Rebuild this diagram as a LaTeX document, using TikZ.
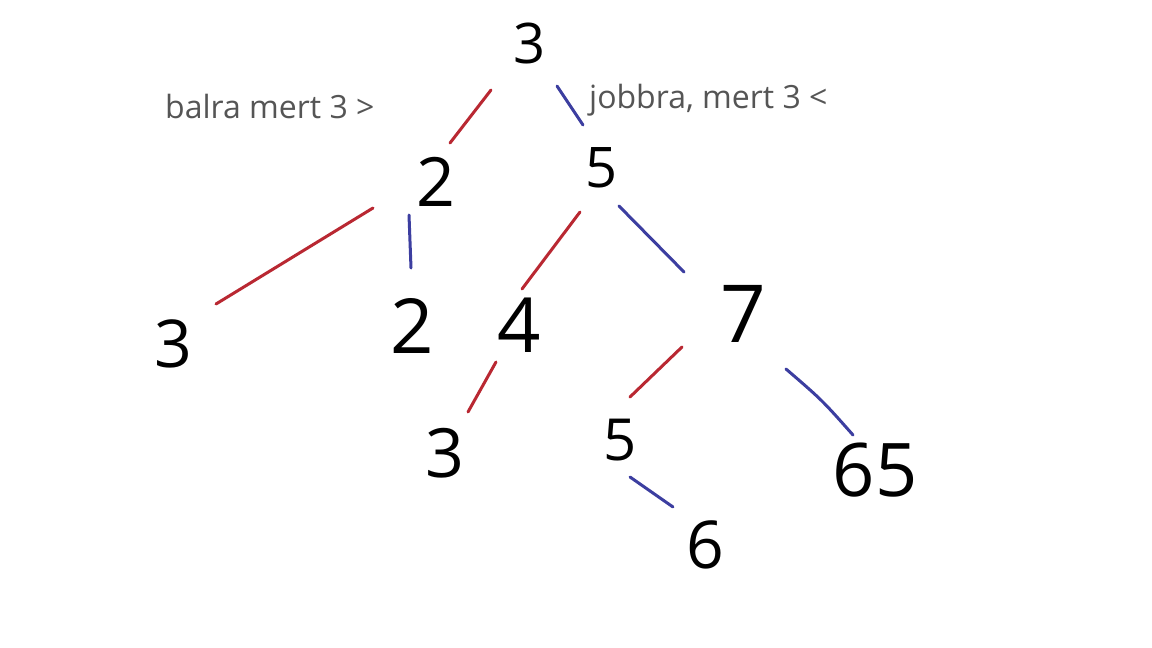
\documentclass[tikz,border=0pt]{standalone}
\usepackage{fontspec}
\setmainfont{Open Sans}
\definecolor{inkred}{RGB}{185,40,50}
\definecolor{inkblue}{RGB}{60,62,160}
\definecolor{labelgray}{RGB}{85,85,85}
\begin{document}
\begin{tikzpicture}[x=1pt,y=-1pt,
  digit/.style={inner sep=0pt,font=\fontsize{#1}{#1}\selectfont,text=black},
  digit/.default=64,
  note/.style={inner sep=0pt,anchor=base west,font=\fontsize{32}{32}\selectfont,text=labelgray},
  leftedge/.style={draw=inkred,line width=3pt,line cap=round},
  rightedge/.style={draw=inkblue,line width=3pt,line cap=round}]
\useasboundingbox (0,0) rectangle (1152,648);
\fill[white] (0,0) rectangle (1152,648);
% nodes
\node[digit=56] (root) at (530,43) {3};
\node[digit=68] (n2) at (436,182) {2};
\node[digit=56] (n5) at (602,168) {5};
\node[digit=66] (n3a) at (173,344) {3};
\node[digit=76] (n2b) at (412,326) {2};
\node[digit=76] (n4) at (519,325) {4};
\node[digit=80] (n7) at (743,314) {7};
\node[digit=68] (n3b) at (445,453) {3};
\node[digit=58] (n5b) at (620,440) {5};
\node[digit=74] (n65) at (875,470) {65};
\node[digit=66] (n6) at (705,545) {6};
% labels
\node[note] (lbl) at (165,118) {balra mert 3 >};
\node[note] (lbr) at (589,108) {jobbra, mert 3 <};
% stroke end points
\coordinate (e1a) at (491,90);  \coordinate (e1b) at (450,143);
\coordinate (e2a) at (557,86);  \coordinate (e2b) at (583,125);
\coordinate (e3a) at (373,208); \coordinate (e3b) at (216,304);
\coordinate (e4a) at (409,215); \coordinate (e4b) at (411,268);
\coordinate (e5a) at (580,212); \coordinate (e5b) at (522,289);
\coordinate (e6a) at (619,206); \coordinate (e6b) at (684,272);
\coordinate (e7a) at (496,362); \coordinate (e7b) at (468,412);
\coordinate (e8a) at (682,347); \coordinate (e8b) at (630,397);
\coordinate (e9a) at (786,369); \coordinate (e9b) at (853,435);
\coordinate (e10a) at (630,477); \coordinate (e10b) at (673,507);
% connectors
\draw[leftedge] (e1a) -- (e1b);
\draw[rightedge] (e2a) -- (e2b);
\draw[leftedge] (e3a) -- (e3b);
\draw[rightedge] (e4a) -- (e4b);
\draw[leftedge] (e5a) -- (e5b);
\draw[rightedge] (e6a) -- (e6b);
\draw[leftedge] (e7a) -- (e7b);
\draw[leftedge] (e8a) -- (e8b);
\draw[rightedge] (e9a) .. controls (822,400) .. (e9b);
\draw[rightedge] (e10a) -- (e10b);
\end{tikzpicture}
\end{document}
